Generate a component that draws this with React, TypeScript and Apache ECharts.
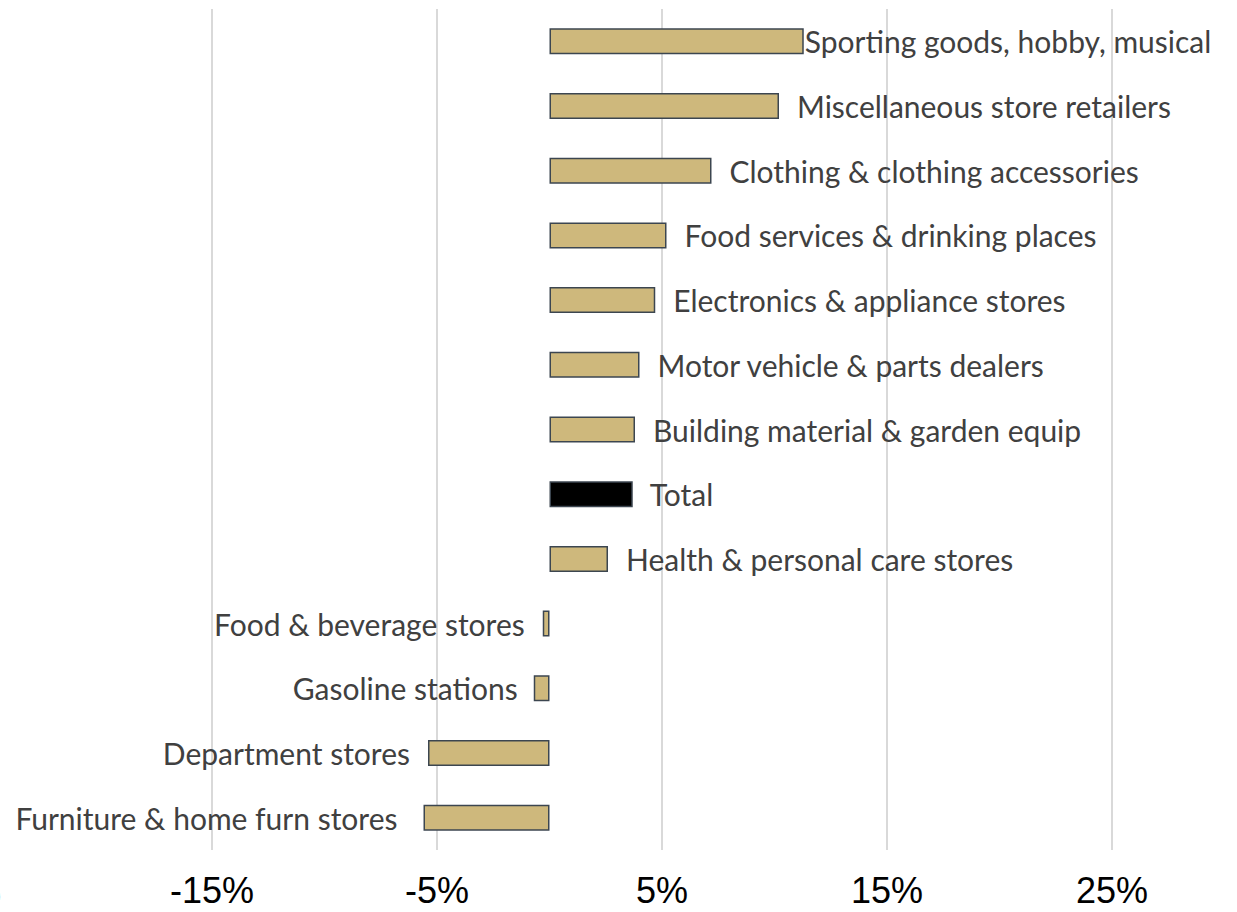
import React, { useEffect, useRef } from "react";
import * as echarts from "echarts";

const categories = [
  "Sporting goods, hobby, musical",
  "Miscellaneous store retailers",
  "Clothing & clothing accessories",
  "Food services & drinking places",
  "Electronics & appliance stores",
  "Motor vehicle & parts dealers",
  "Building material & garden equip",
  "Total",
  "Health & personal care stores",
  "Food & beverage stores",
  "Gasoline stations",
  "Department stores",
  "Furniture & home furn stores",
];
const values = [11.3, 10.2, 7.2, 5.2, 4.7, 4.0, 3.8, 3.7, 2.6, -0.3, -0.7, -5.4, -5.6];
const xTicks = [-25, -15, -5, 5, 15, 25];
const labelGaps = [1, 18, 18, 18, 18, 18, 18, 17, 18, 18, 16, 18, 26];

const BAR = "#CEB87C";
const TOTAL = "#000000";
const EDGE = "#3C4650";

export default function App() {
  const ref = useRef<HTMLDivElement>(null);
  useEffect(() => {
    if (!ref.current) return;
    const chart = echarts.init(ref.current, undefined, { renderer: "svg" });
    const data = values.map((v, i) => {
      const cat = categories[i];
      const neg = v < 0;
      return {
        value: v,
        itemStyle: { color: cat === "Total" ? TOTAL : BAR },
        label: {
          position: neg ? "left" : "right",
          distance: labelGaps[i],
        },
      };
    });
    chart.setOption({
      animation: false,
      grid: {
        left: -13,
        right: 125,
        top: 9,
        bottom: 62,
        containLabel: false,
        outerBoundsMode: "none",
      },
      xAxis: {
        type: "value",
        min: xTicks[0],
        max: xTicks[xTicks.length - 1],
        interval: 10,
        axisLine: { show: false },
        axisTick: { show: false },
        splitLine: { show: true, lineStyle: { color: "#D9D9D9", width: 2 } },
        axisLabel: {
          showMinLabel: false,
          formatter: (v: number) => `${v}%`,
          color: "#000000",
          fontFamily: "Liberation Sans, Arial, sans-serif",
          fontSize: 36,
          margin: 22,
        },
      },
      yAxis: {
        type: "category",
        data: categories,
        inverse: true,
        axisLine: { show: false },
        axisTick: { show: false },
        axisLabel: { show: false },
        splitLine: { show: false },
      },
      series: [
        {
          type: "bar",
          data,
          barWidth: 26,
          itemStyle: { borderColor: EDGE, borderWidth: 1.5 },
          label: {
            show: true,
            formatter: (p: any) => categories[p.dataIndex],
            color: "#404040",
            fontFamily: "Lato, sans-serif",
            fontSize: 30,
          },
        },
      ],
      graphic: [
        {
          type: "text",
          left: -31,
          top: 874,
          style: {
            text: "%",
            fontFamily: "Liberation Sans, Arial, sans-serif",
            fontSize: 36,
            fill: "#000000",
          },
        },
      ],
    });
    return () => chart.dispose();
  }, []);
  return (
    <div
      ref={ref}
      style={{ position: "fixed", left: 0, top: 0, width: 1237, height: 912, background: "#fff" }}
    />
  );
}
